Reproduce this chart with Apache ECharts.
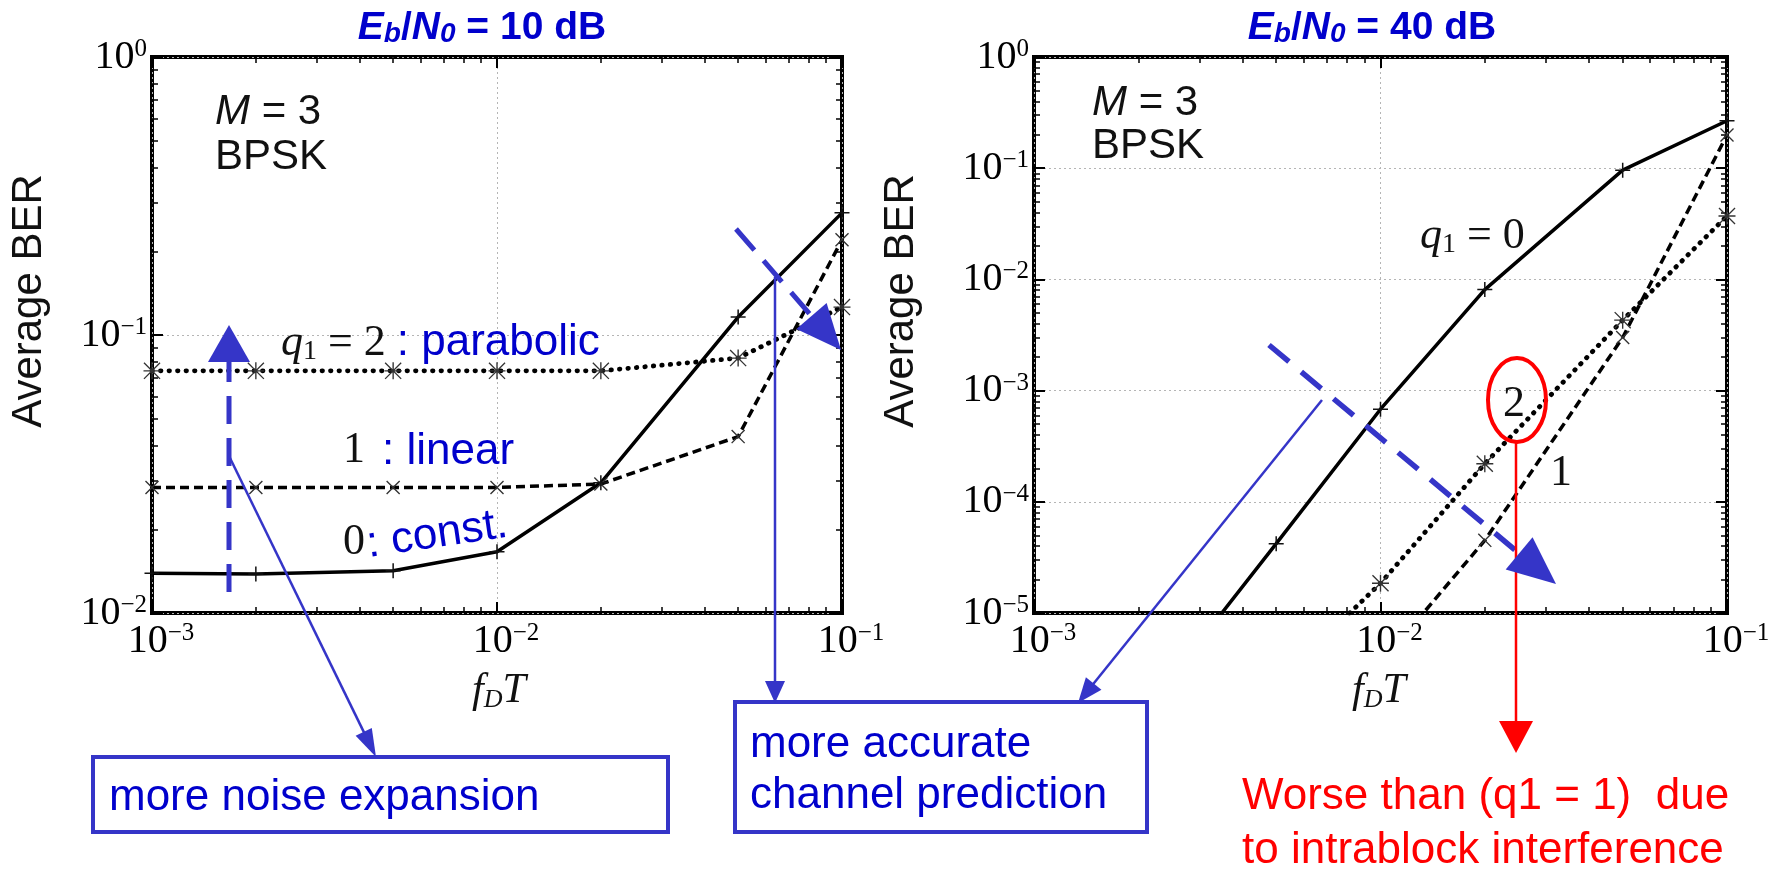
<!DOCTYPE html>
<html><head><meta charset="utf-8">
<script src="https://cdn.jsdelivr.net/npm/echarts@6/dist/echarts.min.js"></script>
<style>html,body{margin:0;padding:0;background:#fff}#c{width:1777px;height:871px}</style>
</head><body><div id="c"></div>
<script>
// ---------- data ----------
const fdT = [0.001, 0.002, 0.005, 0.01, 0.02, 0.05, 0.1];
// Eb/N0 = 10 dB
const ber10_q0 = [0.0139, 0.0138, 0.0142, 0.0166, 0.0294, 0.116, 0.275];
const ber10_q1 = [0.0283, 0.0283, 0.0283, 0.0283, 0.0291, 0.0431, 0.22];
const ber10_q2 = [0.0743, 0.0743, 0.0743, 0.0743, 0.0743, 0.0826, 0.126];
// Eb/N0 = 40 dB
const ber40_q0 = [null, 1.1e-6, 4.2e-5, 6.8e-4, 0.0081, 0.096, 0.267];
const ber40_q1 = [null, null, null, 3.5e-6, 4.5e-5, 0.0030, 0.199];
const ber40_q2 = [null, null, 2.3e-6, 1.85e-5, 2.2e-4, 0.0043, 0.0372];
// tick label exponents
const xTickExp = [-3, -2, -1];
const yTickExpLeft = [-2, -1, 0];
const yTickExpRight = [-5, -4, -3, -2, -1, 0];

// ---------- styling ----------
const serif = 'Liberation Serif', sans = 'Liberation Sans';
const BLUE_T = '#0000cc', BLUE_L = '#3535c8', RED = '#ff0000';

function expLabel(list) {
  return v => {
    const e = Math.round(Math.log10(v));
    if (!list.includes(e)) return '';
    return '{b|10}{s|' + (e < 0 ? '\u2212' + (-e) : e) + '}';
  };
}
const tickRich = {
  b: {fontFamily: serif, fontSize: 40, lineHeight: 40, color: '#000'},
  s: {fontFamily: serif, fontSize: 25, lineHeight: 25, verticalAlign: 'top', color: '#000'}
};

function xAx(grid, pos, labels) {
  return {
    type: 'log', logBase: 10, gridIndex: grid, position: pos, min: 0.001, max: 0.1,
    axisLine: {show: false},
    axisTick: {show: true, inside: true, length: 11, lineStyle: {color: '#000', width: 2}},
    minorTick: {show: true, splitNumber: 9, length: 6, lineStyle: {color: '#000', width: 1.5}},
    axisLabel: labels ? {show: true, formatter: expLabel(xTickExp), rich: tickRich, margin: 8,
      padding: [0, 0, 0, 18], showMinLabel: true, showMaxLabel: true} : {show: false},
    splitLine: labels ? {show: true, lineStyle: {color: '#b5b5b5', type: [2, 3], width: 1}} : {show: false},
    minorSplitLine: {show: false}
  };
}
function yAx(grid, pos, labels, min, expList) {
  return {
    type: 'log', logBase: 10, gridIndex: grid, position: pos, min: min, max: 1,
    axisLine: {show: false},
    axisTick: {show: true, inside: true, length: 11, lineStyle: {color: '#000', width: 2}},
    minorTick: {show: true, splitNumber: 9, length: 6, lineStyle: {color: '#000', width: 1.5}},
    axisLabel: labels ? {show: true, formatter: expLabel(expList), rich: tickRich, margin: 5,
      showMinLabel: true, showMaxLabel: true} : {show: false},
    splitLine: labels ? {show: true, lineStyle: {color: '#b5b5b5', type: [2, 3], width: 1}} : {show: false},
    minorSplitLine: {show: false}
  };
}

const SYM_PLUS = 'path://M9,0h2v20h-2z M0,9h20v2h-20z';
const SYM_CROSS = 'path://M1.4,0L20,18.6L18.6,20L0,1.4Z M18.6,0L20,1.4L1.4,20L0,18.6Z';
const SYM_STAR = 'path://M9.2,0h1.6v20h-1.6z M0,9.2h20v1.6h-20z M1.1,0L20,18.9L18.9,20L0,1.1Z M18.9,0L20,1.1L1.1,20L0,18.9Z';

function pairs(xs, ys) { return xs.map((x, i) => [x, ys[i]]).filter(p => p[1] != null); }
function ser(ys, gi, kind) {
  const st = {
    q0: {type: 'solid', width: 3.5, sym: SYM_PLUS, size: 15, col: '#111', cap: 'butt'},
    q1: {type: [9, 5], width: 3.5, sym: SYM_CROSS, size: 14, col: '#333', cap: 'butt'},
    q2: {type: [0.5, 8], width: 4.8, sym: SYM_STAR, size: 17, col: '#333', cap: 'round'}
  }[kind];
  return {
    type: 'line', xAxisIndex: gi * 2, yAxisIndex: gi * 2, data: pairs(fdT, ys),
    clip: true, symbol: st.sym, symbolSize: st.size, showAllSymbol: true,
    lineStyle: {color: '#000', width: st.width, type: st.type, cap: st.cap},
    itemStyle: {color: st.col}, emphasis: {disabled: true}, z: 3
  };
}

// ---------- graphic helpers ----------
function gline(x1, y1, x2, y2, color, w, dash) {
  return {type: 'line', silent: true, z: 100, shape: {x1, y1, x2, y2},
    style: {stroke: color, lineWidth: w, lineDash: dash || null}};
}
function arrow(x1, y1, tx, ty, color, w, dash, hl, hw) {
  const dx = tx - x1, dy = ty - y1, L = Math.hypot(dx, dy), ux = dx / L, uy = dy / L;
  const bx = tx - ux * hl, by = ty - uy * hl, nx = -uy, ny = ux;
  return [gline(x1, y1, bx + ux * 2, by + uy * 2, color, w, dash),
    {type: 'polygon', silent: true, z: 101,
     shape: {points: [[tx, ty], [bx + nx * hw / 2, by + ny * hw / 2], [bx - nx * hw / 2, by - ny * hw / 2]]},
     style: {fill: color}}];
}
function gtext(x, y, text, rich, opts) {
  return Object.assign({type: 'text', silent: true, z: 102, x, y,
    style: {text, x: 0, y: 0, align: 'left', verticalAlign: 'middle', rich}}, opts || {});
}
const richLabel = {
  mi: {fontFamily: sans, fontStyle: 'italic', fontSize: 42, lineHeight: 46, fill: '#111'},
  n: {fontFamily: sans, fontSize: 42, lineHeight: 46, fill: '#111'},
  qi: {fontFamily: serif, fontStyle: 'italic', fontSize: 44, lineHeight: 46, fill: '#111'},
  qs: {fontFamily: serif, fontSize: 28, lineHeight: 14, verticalAlign: 'bottom', fill: '#111'},
  se: {fontFamily: serif, fontSize: 44, lineHeight: 46, fill: '#111'},
  bl: {fontFamily: sans, fontSize: 44, lineHeight: 46, fill: BLUE_T},
  rd: {fontFamily: sans, fontSize: 44, lineHeight: 54, fill: RED}
};
const richTitle = {
  i: {fontFamily: sans, fontWeight: 'bold', fontStyle: 'italic', fontSize: 39, lineHeight: 40, fill: BLUE_T},
  u: {fontFamily: sans, fontWeight: 'bold', fontStyle: 'italic', fontSize: 28, lineHeight: 8, verticalAlign: 'bottom', fill: BLUE_T},
  n: {fontFamily: sans, fontWeight: 'bold', fontSize: 39, lineHeight: 40, fill: BLUE_T}
};
const richAxisName = {
  f: {fontFamily: serif, fontStyle: 'italic', fontSize: 42, lineHeight: 44, fill: '#111'},
  d: {fontFamily: serif, fontStyle: 'italic', fontSize: 26, lineHeight: 14, verticalAlign: 'bottom', fill: '#111'}
};

const G = [];
// titles
[[482, '10'], [1372, '40']].forEach(p => G.push({type: 'text', silent: true, z: 102, x: p[0], y: 28,
  style: {text: '{i|E}{u|b}{n|/}{i|N}{u|0}{n| = ' + p[1] + ' dB}', x: 0, y: 0, align: 'center', verticalAlign: 'middle', rich: richTitle}}));
// axis names
[[29, 301], [901, 301]].forEach(p => G.push({type: 'text', silent: true, z: 102, x: p[0], y: p[1], rotation: Math.PI / 2,
  style: {text: 'Average BER', x: 0, y: 0, align: 'center', verticalAlign: 'middle', fontFamily: sans, fontSize: 42, fill: '#111'}}));
[499, 1379].forEach(x => G.push({type: 'text', silent: true, z: 102, x, y: 691,
  style: {text: '{f|f}{d|D}{f|T}', x: 0, y: 0, align: 'center', verticalAlign: 'middle', rich: richAxisName}}));
// M = 3 / BPSK
[[215, 112, 157], [1092, 103, 146]].forEach(p => {
  G.push(gtext(p[0], p[1], '{mi|M}{n| = 3}', richLabel));
  G.push(gtext(p[0], p[2], '{n|BPSK}', richLabel));
});
// left plot curve labels
G.push(gtext(281, 343, '{qi|q}{qs|1}{se| = 2 }{bl|: parabolic}', richLabel));
G.push(gtext(343, 450, '{se|1}', richLabel));
G.push(gtext(382, 452, '{bl|: linear}', richLabel));
G.push(gtext(343, 542, '{se|0}', richLabel));
G.push(gtext(367, 545, '{bl|: const.}', richLabel, {rotation: 0.145}));
// right plot curve labels
G.push(gtext(1420, 236, '{qi|q}{qs|1}{se| = 0}', richLabel));
G.push(gtext(1503, 404, '{se|2}', richLabel));
G.push(gtext(1550, 473, '{se|1}', richLabel));
G.push({type: 'ellipse', silent: true, z: 101, shape: {cx: 1517, cy: 400, rx: 29, ry: 42},
  style: {fill: null, stroke: RED, lineWidth: 4}});
// arrows
G.push(...arrow(229, 592, 229, 325, BLUE_L, 5, [28, 14], 37, 42));
G.push(...arrow(230, 458, 376, 757, BLUE_L, 2.5, null, 28, 18));
G.push(...arrow(736, 229, 841, 350, BLUE_L, 5, [28, 14], 45, 40));
G.push(...arrow(775, 277, 775, 703, BLUE_L, 2.5, null, 22, 20));
G.push(...arrow(1269, 345, 1556, 584, BLUE_L, 5.5, [26, 16], 48, 42));
G.push(...arrow(1322, 400, 1078, 703, BLUE_L, 2.5, null, 25, 20));
G.push(...arrow(1516, 443, 1516, 753, RED, 2.5, null, 32, 34));
// boxes
G.push({type: 'rect', silent: true, z: 100, shape: {x: 93, y: 757, width: 575, height: 75},
  style: {fill: '#fff', stroke: BLUE_L, lineWidth: 4}});
G.push(gtext(109, 798, '{bl|more noise expansion}', richLabel));
G.push({type: 'rect', silent: true, z: 100, shape: {x: 735, y: 702, width: 412, height: 130},
  style: {fill: '#fff', stroke: BLUE_L, lineWidth: 4}});
G.push(gtext(750, 745, '{bl|more accurate}', richLabel));
G.push(gtext(750, 796, '{bl|channel prediction}', richLabel));
// red note
G.push(gtext(1242, 797, '{rd|Worse than (q1 = 1)  due}', richLabel));
G.push(gtext(1242, 851, '{rd|to intrablock interference}', richLabel));

const option = {
  animation: false,
  backgroundColor: '#fff',
  grid: [
    {left: 152, top: 57, width: 690, height: 556, show: true, borderColor: '#000', borderWidth: 4, backgroundColor: 'transparent'},
    {left: 1034, top: 57, width: 693, height: 556, show: true, borderColor: '#000', borderWidth: 4, backgroundColor: 'transparent'}
  ],
  xAxis: [xAx(0, 'bottom', true), xAx(0, 'top', false), xAx(1, 'bottom', true), xAx(1, 'top', false)],
  yAxis: [yAx(0, 'left', true, 0.01, yTickExpLeft), yAx(0, 'right', false, 0.01, yTickExpLeft),
          yAx(1, 'left', true, 1e-5, yTickExpRight), yAx(1, 'right', false, 1e-5, yTickExpRight)],
  series: [
    ser(ber10_q2, 0, 'q2'), ser(ber10_q1, 0, 'q1'), ser(ber10_q0, 0, 'q0'),
    ser(ber40_q2, 1, 'q2'), ser(ber40_q1, 1, 'q1'), ser(ber40_q0, 1, 'q0')
  ],
  graphic: G
};
const chart = echarts.init(document.getElementById('c'));
chart.setOption(option);
</script></body></html>
